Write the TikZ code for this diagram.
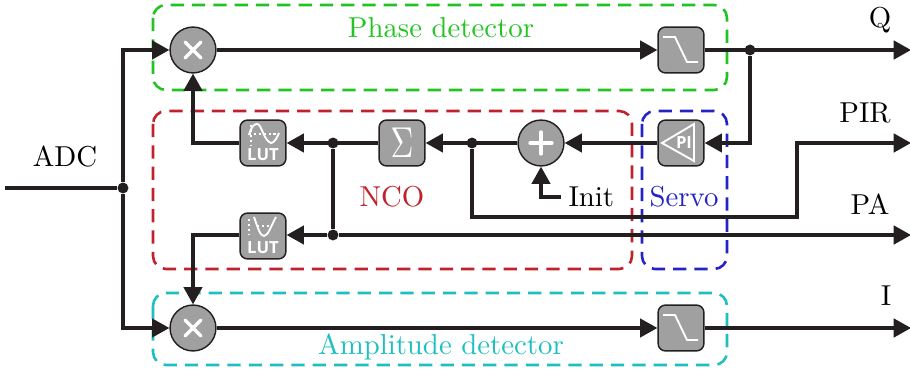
\documentclass[tikz,border=0pt]{standalone}
\usepackage{amsmath}
\usepackage{fontspec}
\usepackage{tikz}
\usetikzlibrary{arrows.meta}
\newfontfamily\iconfont{Open Sans}
\definecolor{sigdark}{HTML}{231F20}
\definecolor{boxgray}{HTML}{A0A0A0}
\definecolor{phasegreen}{HTML}{22C322}
\definecolor{ncored}{HTML}{C0222C}
\definecolor{servoblue}{HTML}{2424C4}
\definecolor{ampcyan}{HTML}{1FBFBF}
\tikzset{
sig/.style={draw=sigdark,line width=1.1pt}, % signal lines
arr/.style={sig,-{Triangle[length=6pt,width=6.4pt]}}, % with arrow
blockbox/.style={draw=sigdark,fill=boxgray,line width=.5pt,rectangle,rounded corners=2.6pt,minimum size=.56cm,inner sep=0pt},
mixball/.style={draw=sigdark,fill=boxgray,line width=.5pt,circle,minimum size=.56cm,inner sep=0pt},
dotnode/.style={fill=sigdark,circle,minimum size=3.8pt,inner sep=0pt},
groupbox/.style={line width=.9pt,rounded corners=4.5pt,dash pattern=on 4.6pt off 2.8pt},
icon/.style={draw=white,line width=.65pt},
iconthick/.style={draw=white,line width=1.15pt,line cap=round},
icondot/.style={draw=white,line width=.4pt,dash pattern=on .8pt off .9pt},
luttext/.style={text=white,font=\iconfont\fontsize{5.8}{6}\selectfont\bfseries,inner sep=0pt}
}
\begin{document}
\begin{tikzpicture}[x=0.0122cm,y=-0.0122cm]
\useasboundingbox (0,0) rectangle (910,374);
% dashed groups
\draw[groupbox,draw=phasegreen] (153,5) rectangle (727,90);
\draw[groupbox,draw=ncored] (153,111) rectangle (632,269);
\draw[groupbox,draw=servoblue] (642,111) rectangle (727,269);
\draw[groupbox,draw=ampcyan] (153,293) rectangle (727,365);
% blocks
\node[mixball] (mixp) at (193,50) {};
\node[mixball] (mixa) at (193,328) {};
\node[blockbox] (lpfp) at (681,50) {};
\node[blockbox] (lpfa) at (681,328) {};
\node[blockbox] (lutsin) at (263,143) {};
\node[blockbox] (lutcos) at (263,236) {};
\node[blockbox,text=white] (sumb) at (402,143) {\scalebox{1.1}[1.5]{$\Sigma$}};
\node[mixball] (addb) at (541,143) {};
\node[blockbox] (pib) at (681,143) {};
% junctions
\node[dotnode] (jadc) at (123,188) {};
\node[dotnode] (jq) at (750,50) {};
\node[dotnode] (jsum) at (333,143) {};
\node[dotnode] (jcos) at (333,235) {};
\node[dotnode] (jadd) at (472,143) {};
\coordinate (adcin) at (5,188);
\coordinate (qout) at (911,50);
\coordinate (iout) at (911,328);
\coordinate (paout) at (911,235);
\coordinate (pirout) at (911,143);
\coordinate (pirup) at (797,217);
\coordinate (initend) at (561,197);
% labels
\node (adclab) at (65,157) {ADC};
\node (qlab) at (880,20) {Q};
\node (pirlab) at (865,113) {PIR};
\node (palab) at (870,204) {PA};
\node (ilab) at (886,296) {I};
\node[anchor=west,inner sep=0pt] (initlab) at (568,197) {Init};
\node[text=phasegreen] (phaselab) at (441,28) {Phase detector};
\node[text=ncored] (ncolab) at (392,197) {NCO};
\node[text=servoblue] (servolab) at (684,197) {Servo};
\node[text=ampcyan] (amplab) at (441,347) {Amplitude detector};
% connections
\draw[sig] (adcin) -- (jadc);
\draw[arr] (jadc) |- (mixp);
\draw[arr] (jadc) |- (mixa);
\draw[arr] (mixp) -- (lpfp);
\draw[arr] (mixa) -- (lpfa);
\draw[arr] (lpfp) -- (qout);
\draw[arr] (lpfa) -- (iout);
\draw[arr] (jq) |- (pib);
\draw[arr] (pib) -- (addb);
\draw[arr] (addb) -- (sumb);
\draw[arr] (sumb) -- (lutsin);
\draw[sig] (jsum) -- (jcos);
\draw[arr] (jcos) -- (lutcos.east |- jcos);
\draw[arr] (jcos) -- (paout);
\draw[arr] (lutsin) -| (mixp);
\draw[arr] (lutcos.west |- jcos) -| (mixa);
\draw[arr] (jadd) |- (pirup) |- (pirout);
\draw[arr] (initend) -| (addb);
% icons
\foreach \mixname in {mixp,mixa}
  \draw[iconthick] ([shift={(-8,-8)}]\mixname.center) -- ([shift={(8,8)}]\mixname.center)
    ([shift={(-8,8)}]\mixname.center) -- ([shift={(8,-8)}]\mixname.center);
\draw[iconthick] ([shift={(-11,0)}]addb.center) -- ([shift={(11,0)}]addb.center)
  ([shift={(0,-11)}]addb.center) -- ([shift={(0,11)}]addb.center);
\foreach \lpfname in {lpfp,lpfa}
  \draw[icon] ([shift={(-18,-13)}]\lpfname.center) -- ([shift={(-6,-13)}]\lpfname.center)
    -- ([shift={(6,12)}]\lpfname.center) -- ([shift={(17,12)}]\lpfname.center);
\draw[icon] ([shift={(-19,0)}]pib.center) -- ([shift={(13,-19)}]pib.center)
  -- ([shift={(13,18)}]pib.center) -- cycle;
\node[luttext] (pitext) at ([shift={(3,0)}]pib.center) {PI};
\draw[icondot] ([shift={(-12,-18)}]lutsin.center) -- ([shift={(-12,2)}]lutsin.center);
\draw[icondot] ([shift={(-14,-9)}]lutsin.center) -- ([shift={(15,-9)}]lutsin.center);
\draw[icon] ([shift={(-14,-8)}]lutsin.center) .. controls ([shift={(-12,-16)}]lutsin.center) and ([shift={(-9,-19)}]lutsin.center) .. ([shift={(-6,-19)}]lutsin.center)
  .. controls ([shift={(-1,-19)}]lutsin.center) and ([shift={(0,-3)}]lutsin.center) .. ([shift={(8,0)}]lutsin.center)
  .. controls ([shift={(11,0)}]lutsin.center) and ([shift={(14,-5)}]lutsin.center) .. ([shift={(16,-10)}]lutsin.center);
\node[luttext] (lutsintext) at ([shift={(0,12)}]lutsin.center) {LUT};
\draw[icondot] ([shift={(-14,-17)}]lutcos.center) -- ([shift={(-14,-1)}]lutcos.center);
\draw[icondot] ([shift={(-6,-10)}]lutcos.center) -- ([shift={(7,-10)}]lutcos.center);
\draw[icon] ([shift={(-9,-19)}]lutcos.center) .. controls ([shift={(-5,-8)}]lutcos.center) and ([shift={(-3,0)}]lutcos.center) .. ([shift={(1,0)}]lutcos.center)
  .. controls ([shift={(5,0)}]lutcos.center) and ([shift={(8,-10)}]lutcos.center) .. ([shift={(13,-19)}]lutcos.center);
\node[luttext] (lutcostext) at ([shift={(0,12)}]lutcos.center) {LUT};
\end{tikzpicture}
\end{document}
